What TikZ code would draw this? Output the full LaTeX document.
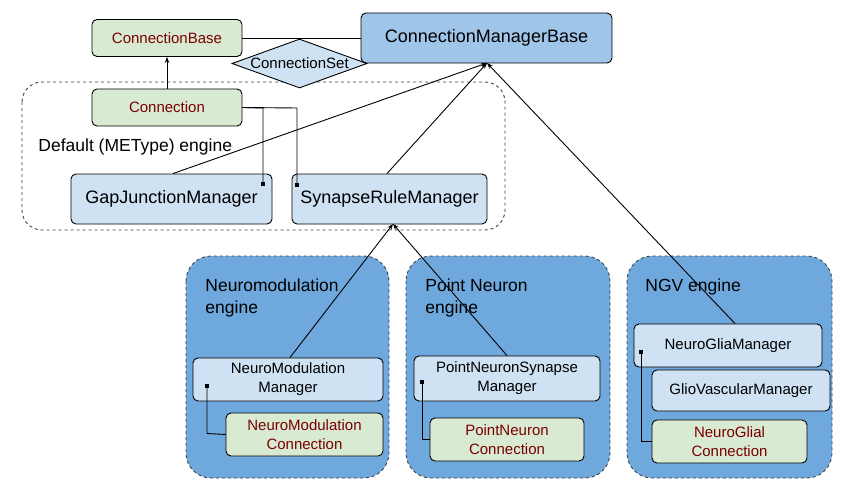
\documentclass[tikz,border=0pt]{standalone}
\usepackage{fontspec}
\setmainfont{Liberation Sans}
\usetikzlibrary{shapes.geometric,arrows.meta}
\definecolor{lb}{HTML}{CFE2F3}
\definecolor{gr}{HTML}{D9EAD3}
\definecolor{mb}{HTML}{9FC5E8}
\definecolor{eb}{HTML}{6FA8DC}
\definecolor{dr}{HTML}{7A0000}
\begin{document}
\begin{tikzpicture}[x=1pt,y=-1pt,line width=0.9pt,
 box/.style={draw,rounded corners=5pt,fill=lb,inner sep=0pt,align=center,font=\fontsize{15}{19}\selectfont},
 gbox/.style={box,fill=gr,text=dr},
 bigf/.style={font=\fontsize{18}{22}\selectfont},
 eng/.style={draw=black!75,dashed,rounded corners=25pt,fill=eb},
 lbl/.style={anchor=west,align=left,font=\fontsize{17.5}{22}\selectfont,inner sep=0pt},
 arr/.style={-{Stealth[length=6pt,width=4.5pt]}},
 sq/.style={-{Square[length=4pt,width=4pt]}}]
\useasboundingbox (0,0) rectangle (852,495);
\fill[white] (0,0) rectangle (852,495);
% containers
\draw[dashed,black!75,rounded corners=20pt] (22,82) rectangle (505,230);
\node[lbl] (dl) at (38,147) {Default (METype) engine};
\draw[eng] (186,256) rectangle (389,478);
\draw[eng] (406,256) rectangle (610,478);
\draw[eng] (627,256) rectangle (832,478);
\node[lbl] (nl) at (205,298) {Neuromodulation\\engine};
\node[lbl] (pl) at (425,298) {Point Neuron\\engine};
\node[lbl] (gl) at (645,287) {NGV engine};
% nodes
\node[gbox,minimum width=150pt,minimum height=37pt] (cb) at (167,38) {ConnectionBase};
\node[box,bigf,fill=mb,minimum width=251pt,minimum height=50pt] (cmb) at (486.5,38) {ConnectionManagerBase};
\node[diamond,draw,fill=lb,aspect=2.8,inner sep=0pt,minimum width=135pt,minimum height=49pt,font=\fontsize{15}{18}\selectfont] (cs) at (299.5,63.5) {ConnectionSet};
\node[gbox,minimum width=150pt,minimum height=37pt] (c) at (167,107.5) {Connection};
\node[box,bigf,minimum width=201pt,minimum height=50pt] (gjm) at (171.5,199) {GapJunctionManager};
\node[box,bigf,minimum width=195pt,minimum height=50pt] (srm) at (389.5,199) {SynapseRuleManager};
\node[box,minimum width=190pt,minimum height=43pt] (nmm) at (288,379.5) {NeuroModulation\\Manager};
\node[gbox,minimum width=157pt,minimum height=43pt] (nmc) at (304.5,434.5) {NeuroModulation\\Connection};
\node[box,minimum width=186pt,minimum height=45pt] (pns) at (507,378.5) {PointNeuronSynapse\\Manager};
\node[gbox,minimum width=154pt,minimum height=43pt] (pnc) at (507,439.5) {PointNeuron\\Connection};
\node[box,minimum width=188pt,minimum height=43pt] (ngm) at (728,345.5) {NeuroGliaManager};
\node[box,minimum width=178pt,minimum height=41pt] (gvm) at (741,390.5) {GlioVascularManager};
\node[gbox,minimum width=155pt,minimum height=43pt] (ngc) at (729.5,441.5) {NeuroGlial\\Connection};
% connectors
\draw[arr] (c.north) -- (cb.south);
\draw (cb.east) -- (cmb.west);
\coordinate (cmbp) at (487,63);
\coordinate (srmp) at (393,224);
\draw[arr] (gjm.north) ++(1.5,0) -- (cmbp);
\draw[arr] (srm.north) ++(-2.5,0) -- (cmbp);
\draw[arr] (ngm.north) ++(7,0) -- (cmbp);
\draw[arr] (nmm.north) ++(2,0) -- (srmp);
\draw[arr] (pns.north) -- (srmp);
\coordinate (g1) at (263,186);
\coordinate (s1) at (297,187);
\draw[sq] (c.east) -- (263,108) -- (g1);
\draw[sq] (c.east) -- (297,108) -- (s1);
\coordinate (n1) at (207,384);
\draw[sq] (nmc.west) -- (207,433.5) -- (n1);
\coordinate (p1) at (422,380);
\draw[sq] (pnc.west) -- (422,439.5) -- (p1);
\coordinate (q1) at (641,350);
\draw[sq] (ngc.west) -- (641,441.5) -- (q1);
\end{tikzpicture}
\end{document}
